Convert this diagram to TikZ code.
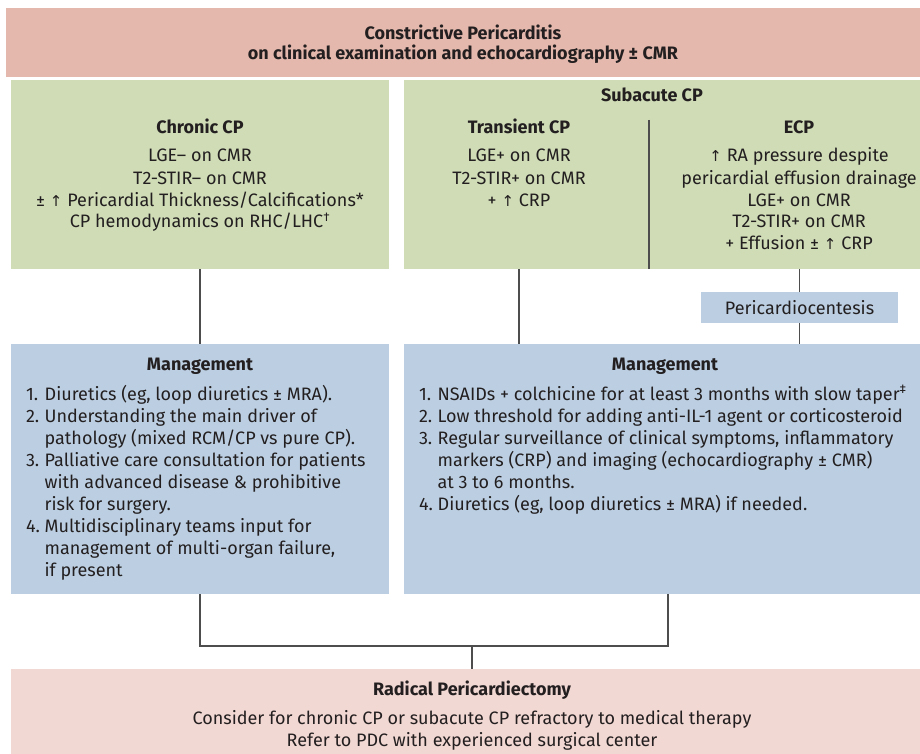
\documentclass[tikz,border=0pt]{standalone}
\usepackage{fontspec}
\setmainfont{Fira Sans}
\newfontfamily\dv{DejaVu Sans}
\definecolor{toppink}{HTML}{E4B8AD}
\definecolor{botpink}{HTML}{F2D8D3}
\definecolor{green}{HTML}{CFDCB6}
\definecolor{blue}{HTML}{BCCFE2}
\definecolor{txtc}{HTML}{231F20}
\definecolor{linec}{HTML}{4D4D4D}
\newcommand{\up}{{\dv\fontsize{15}{22}\selectfont ↑}}
\begin{document}
\begin{tikzpicture}[x=1pt,y=-1pt,
  box/.style={inner sep=0pt, outer sep=0pt, anchor=north west},
  txt/.style={inner sep=0pt, outer sep=0pt, text=txtc, font=\fontsize{18}{22}\selectfont, anchor=base},
  hd/.style={txt, font=\fontsize{18}{22}\selectfont\bfseries},
  conn/.style={draw=linec, line width=1.2pt}]
\useasboundingbox (0,0) rectangle (920,754);
% boxes
\node[box, fill=toppink, minimum width=914pt, minimum height=69pt] (top) at (6,8) {};
\node[box, fill=green, minimum width=378pt, minimum height=189pt] (gl) at (11,80) {};
\node[box, fill=green, minimum width=516pt, minimum height=189pt] (gr) at (404,80) {};
\node[box, fill=blue, minimum width=378pt, minimum height=250pt] (ml) at (11,344) {};
\node[box, fill=blue, minimum width=516pt, minimum height=250pt] (mr) at (404,344) {};
\node[box, fill=botpink, minimum width=909pt, minimum height=85pt] (bot) at (11,669) {};
\node[box, fill=blue, minimum width=197pt, minimum height=31pt, text=txtc, font=\fontsize{18}{22}\selectfont] (peri) at (701,292) {Pericardiocentesis};
% texts
\node[hd] (toptxt) at (463,40) {\begin{tabular}[t]{@{}c@{}}Constrictive Pericarditis\\[-2pt] on clinical examination and echocardiography ± CMR\end{tabular}};
\node[hd] (chr) at (200,134) {Chronic CP};
\node[txt] (chrtxt) at (200,162) {\begin{tabular}[t]{@{}c@{}}LGE– on CMR\\ T2-STIR– on CMR\\ ± \up{} Pericardial Thickness/Calcifications*\\ CP hemodynamics on RHC/LHC\textsuperscript{†}\end{tabular}};
\node[hd] (sub) at (652,102) {Subacute CP};
\node[hd] (tcp) at (519,134) {Transient CP};
\node[txt] (tcptxt) at (519,162) {\begin{tabular}[t]{@{}c@{}}LGE+ on CMR\\ T2-STIR+ on CMR\\ + \up{} CRP\end{tabular}};
\node[hd] (ecp) at (799,134) {ECP};
\node[txt] (ecptxt) at (799,162) {\begin{tabular}[t]{@{}c@{}}\up{} RA pressure despite\\ pericardial effusion drainage\\ LGE+ on CMR\\ T2-STIR+ on CMR\\ + Effusion ± \up{} CRP\end{tabular}};
\coordinate (dvt) at (649,120);
\draw[conn] (dvt) -- (dvt |- gr.south);
\node[hd] (mlh) at (200,370) {Management};
\node[hd] (mrh) at (665,370) {Management};
\node[txt, anchor=base west] (mltxt) at (26,400) {\begin{tabular}[t]{@{}l@{\ }l@{}}1. & Diuretics (eg, loop diuretics ± MRA).\\
2. & Understanding the main driver of\\ & pathology (mixed RCM/CP vs pure CP).\\
3. & Palliative care consultation for patients\\ & with advanced disease \& prohibitive\\ & risk for surgery.\\
4. & Multidisciplinary teams input for\\ & management of multi-organ failure,\\ & if present\end{tabular}};
\node[txt, anchor=base west] (mrtxt) at (419,400) {\begin{tabular}[t]{@{}l@{\ }l@{}}1. & NSAIDs + colchicine for at least 3 months with slow taper\textsuperscript{‡}\\
2. & Low threshold for adding anti-IL-1 agent or corticosteroid\\
3. & Regular surveillance of clinical symptoms, inflammatory\\ & markers (CRP) and imaging (echocardiography ± CMR)\\ & at 3 to 6 months.\\
4. & Diuretics (eg, loop diuretics ± MRA) if needed.\end{tabular}};
\node[hd] (rp) at (472,695) {Radical Pericardiectomy};
\node[txt] (rptxt) at (472,724) {\begin{tabular}[t]{@{}c@{}}Consider for chronic CP or subacute CP refractory to medical therapy\\ Refer to PDC with experienced surgical center\end{tabular}};
% connectors
\draw[conn] (gl.south) -- (ml.north);
\draw[conn] (gr.south -| tcp) -- (mr.north -| tcp);
\draw[conn] (gr.south -| peri) -- (peri.north);
\draw[conn] (peri.south) -- (mr.north -| peri);
\coordinate (jr) at (668,646);
\coordinate (jc) at (472,646);
\draw[conn] (ml.south) |- (jr) -- (jr |- mr.south);
\draw[conn] (jc) -- (jc |- bot.north);
\end{tikzpicture}
\end{document}
